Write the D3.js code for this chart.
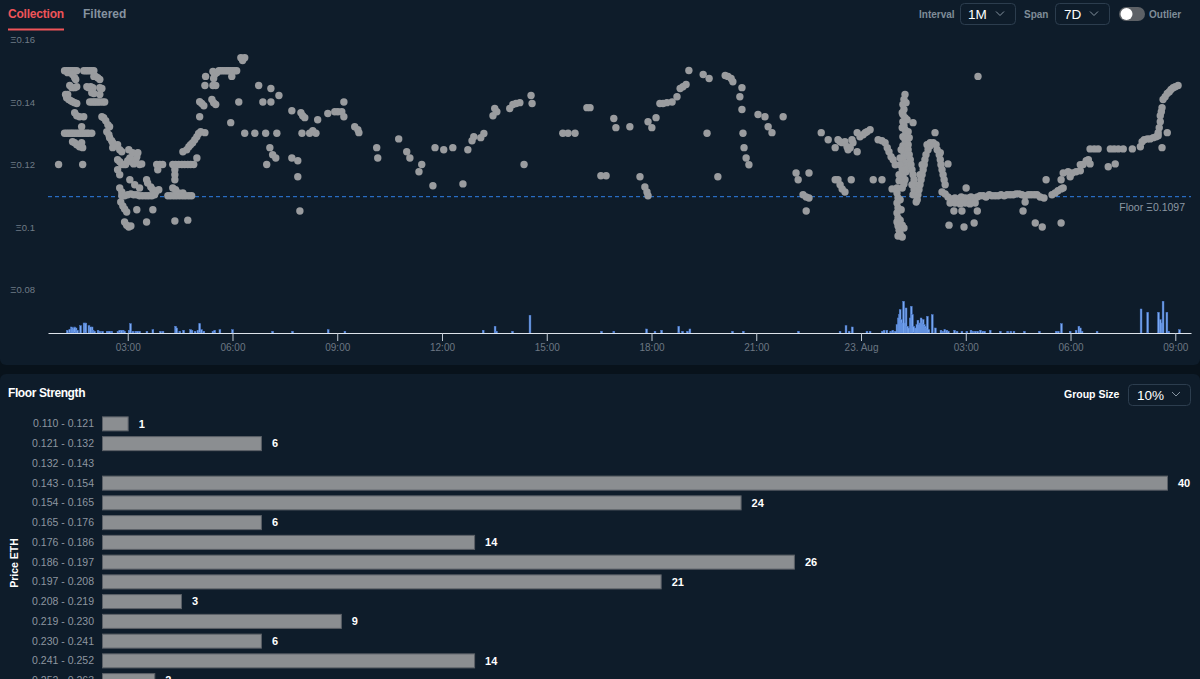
<!DOCTYPE html>
<html><head><meta charset="utf-8">
<script src="https://cdn.jsdelivr.net/npm/d3@7"></script>
<style>
html,body{margin:0;padding:0;background:#08121b;overflow:hidden;}
svg{display:block;font-family:"Liberation Sans",Arial,sans-serif;}
</style></head><body>
<svg id="c" width="1200" height="679"></svg>
<script>
// ---------- DATA ----------
// sales: [hours since 22 Aug 00:00 UTC, price in ETH]
const salesNight = [
[1.02,0.12],[1.19,0.15],[1.25,0.15],[1.31,0.15],[1.37,0.15],[1.42,0.15],[1.48,0.15],[1.54,0.15],
[1.74,0.15],[1.80,0.15],[1.85,0.15],[1.91,0.15],[1.97,0.15],[2.03,0.15],
[1.28,0.1494],[1.42,0.1488],[1.48,0.1478],[1.51,0.1472],
[2.03,0.1482],[2.08,0.1482],[2.14,0.1478],[2.20,0.1472],
[1.34,0.1453],[1.40,0.1446],[1.48,0.1446],[1.54,0.1449],
[1.83,0.1449],[1.88,0.1446],[1.94,0.1449],[2.00,0.1446],
[2.20,0.1446],[2.26,0.1443],[1.22,0.1424],[1.28,0.1424],[1.97,0.143],[2.03,0.1427],[2.20,0.1424],
[1.25,0.1414],[1.31,0.1408],[1.37,0.1404],[1.42,0.1401],[1.48,0.1398],[1.54,0.1395],
[1.91,0.14],[1.97,0.14],[2.03,0.14],[2.08,0.14],[2.14,0.14],[2.20,0.14],[2.28,0.14],[2.34,0.14],
[1.48,0.1366],[1.54,0.1356],[1.62,0.1353],[1.74,0.1353],[1.68,0.1321],
[1.19,0.13],[1.25,0.13],[1.31,0.13],[1.37,0.13],[1.42,0.13],[1.48,0.13],[1.54,0.13],[1.60,0.13],[1.65,0.13],[1.71,0.13],[1.77,0.13],[1.83,0.13],[1.88,0.13],[1.97,0.13],
[1.42,0.1273],[1.48,0.127],[1.54,0.1263],[1.62,0.1257],[1.71,0.1254],[1.68,0.127],[1.71,0.12],
[2.26,0.1353],[2.31,0.135],[2.37,0.134],[2.43,0.1327],[2.48,0.1321],
[2.40,0.1305],[2.46,0.1295],[2.48,0.1286],[2.54,0.1276],[2.57,0.127],[2.63,0.126],[2.71,0.1263],[2.77,0.1247],[2.83,0.1241],[2.57,0.1254],
[2.71,0.1215],[2.77,0.1209],[2.83,0.12],[2.89,0.12],[2.94,0.12],[3.00,0.1212],
[2.71,0.1183],[2.77,0.1167],[2.77,0.1125],[2.83,0.1112],[2.83,0.11],[2.91,0.11],[3.00,0.1103],
[2.80,0.108],[2.86,0.1067],[2.91,0.1058],[2.97,0.1048],
[2.91,0.1016],[2.97,0.1006],[3.03,0.10],[3.09,0.1003]
];
const salesMorning = [
[3.06,0.1221],[3.11,0.1209],[3.17,0.1202],[3.23,0.1215],[3.26,0.1225],[3.34,0.12],[3.40,0.1202],
[3.03,0.1247],[3.14,0.1238],[3.29,0.1238],
[3.06,0.1151],[3.20,0.1135],[3.34,0.1125],[3.54,0.1151],
[3.57,0.1141],[3.66,0.1128],[3.72,0.1119],[3.80,0.1112],[3.89,0.1119],
[3.83,0.12],[3.92,0.12],[4.00,0.12],[3.86,0.1183],
[3.09,0.1106],[3.17,0.1103],[3.26,0.1103],[3.34,0.11],[3.43,0.11],[3.52,0.11],[3.60,0.11],[3.69,0.11],[3.77,0.1103],
[3.26,0.1055],[3.54,0.1016],[3.72,0.1055],
[4.29,0.12],[4.37,0.12],[4.46,0.12],[4.55,0.12],[4.63,0.12],[4.72,0.12],[4.80,0.12],[4.89,0.12],
[4.35,0.1183],[4.35,0.1167],[4.35,0.1151],
[4.29,0.1125],[4.37,0.1119],[4.46,0.1109],[4.58,0.1109],
[4.15,0.11],[4.23,0.11],[4.32,0.11],[4.40,0.11],[4.49,0.11],[4.58,0.11],[4.66,0.11],[4.75,0.11],[4.83,0.11],
[4.35,0.1019],[4.72,0.1022],[4.58,0.1241],
[4.69,0.1247],[4.75,0.1257],[4.80,0.1263],[4.86,0.127],[4.92,0.1279],[4.98,0.1289],[5.03,0.1299],[5.09,0.1305],
[4.98,0.1221],[5.06,0.1353],[5.06,0.1401],[5.12,0.1395],[5.18,0.1388],
[5.21,0.1453],[5.23,0.1482],[5.41,0.1408],[5.46,0.1398],[5.52,0.1392],
[5.44,0.1453],[5.52,0.1453],
[5.44,0.1498],[5.49,0.1488],[5.55,0.1494],[5.61,0.15],[5.46,0.1475],
[5.66,0.15],[5.72,0.15],[5.78,0.15],[5.84,0.15],[5.89,0.15],[5.95,0.15],[6.01,0.15],[6.07,0.15],[6.12,0.15],
[5.98,0.1482],[5.21,0.1302],[5.95,0.1334]
];
const salesForenoon = [
[6.24,0.1542],[6.35,0.1542],[6.29,0.1533],[6.18,0.14],
[6.35,0.13],[6.64,0.13],[6.95,0.13],[7.27,0.13],
[6.75,0.1453],[7.10,0.1443],[7.33,0.1421],[6.87,0.14],[7.10,0.14],
[7.07,0.1254],[7.15,0.1231],[7.24,0.1221],[6.98,0.12],
[7.70,0.1372],[7.96,0.1366],[8.01,0.1356],[8.07,0.135],
[7.99,0.13],[8.21,0.13],[8.30,0.1308],[8.39,0.13],
[7.70,0.1221],[7.87,0.1212],[7.87,0.1161],[7.93,0.1051],
[8.44,0.1343],[8.73,0.1363],[8.93,0.1369],[9.02,0.1369],[9.13,0.1369],[9.19,0.14],[9.19,0.1353],
[9.50,0.1321],[9.59,0.1311],[9.62,0.1302],
[10.13,0.1254],[10.16,0.1221],
[10.76,0.1282],[10.99,0.1241],[11.08,0.1221],[11.42,0.12],[11.34,0.1177],[11.74,0.1132],[11.80,0.1254]
];
const salesAfternoon = [
[12.05,0.1247],[12.31,0.1254],[12.60,0.1138],[12.74,0.1247],[12.86,0.1276],[12.91,0.1289],[13.11,0.1286],[13.20,0.1299],[13.46,0.1356],[13.51,0.1379],[13.57,0.1369],[13.94,0.1379],[14.03,0.1392],[14.12,0.1395],[14.23,0.1398],[14.35,0.12],[14.55,0.1421],[14.58,0.1395],
[15.46,0.13],[15.61,0.13],[15.81,0.13],[16.15,0.1382],[16.24,0.1382],
[16.55,0.1164],[16.70,0.1164],
[16.92,0.1347],[16.98,0.1318],[17.38,0.1321],
[17.67,0.1161],[17.81,0.1128],[17.87,0.1112],[17.90,0.11],
[17.90,0.1337],[18.01,0.1318],[18.13,0.135],[18.24,0.1395],[18.33,0.1395],[18.44,0.1398],[18.59,0.14],
[18.73,0.1417],[18.82,0.1443],[18.90,0.1449],[18.99,0.1456],[19.07,0.1501],
[19.48,0.1488],[19.59,0.13],[19.65,0.1475],[19.90,0.1161],
[20.11,0.1485],[20.19,0.1482],[20.28,0.1475],[20.33,0.1465],
[20.53,0.1417],[20.59,0.1446],[20.59,0.1376],[20.62,0.13],[20.65,0.1254],[20.71,0.1221],[20.79,0.1199],
[21.05,0.136],[21.25,0.1353],[21.34,0.1321],[21.45,0.1302],[21.77,0.1353]
];
const salesSpike = [
[22.14,0.1173],[22.20,0.1151],[22.51,0.1173],[22.34,0.1103],[22.43,0.1096],[22.51,0.1093],[22.43,0.1051],
[22.86,0.1302],[23.06,0.1279],
[23.26,0.1254],[23.34,0.1279],[23.40,0.1273],[23.46,0.127],[23.54,0.1273],[23.60,0.1257],[23.63,0.1247],[23.69,0.1254],[23.74,0.1279],[23.77,0.127],[23.89,0.1241],
[23.89,0.1302],[23.97,0.1289],[24.06,0.1295],[24.12,0.1302],[24.17,0.1305],[24.26,0.1311],
[23.34,0.1151],[23.40,0.1135],[23.46,0.1122],[23.54,0.1112],[23.26,0.1151],[23.72,0.1151],
[24.35,0.1151],[24.60,0.1151],
[24.49,0.1279],[24.60,0.1276],[24.69,0.127],
[24.75,0.1254],[24.80,0.1241],[24.86,0.1225],[24.92,0.1215],[24.98,0.1199],[24.89,0.1122],
[25.03,0.1125],[25.03,0.1109],[25.06,0.1093],[25.03,0.1077],[25.06,0.1061],[25.03,0.1045],[25.06,0.1029],[25.03,0.1016],[25.06,0.1003],[25.09,0.099],[25.12,0.0978],[25.06,0.0971],[25.18,0.0968],[25.18,0.1006],[25.23,0.0997],[25.12,0.1022],[25.15,0.1055],[25.12,0.1087],
[25.26,0.1424],[25.23,0.1408],[25.20,0.1392],[25.23,0.1376],[25.20,0.136],[25.26,0.135],[25.20,0.1337],[25.23,0.1324],[25.26,0.1311],[25.29,0.1299],[25.20,0.1289],[25.26,0.1279],[25.32,0.127],[25.20,0.126],[25.26,0.125],[25.23,0.1238],[25.29,0.1228],[25.20,0.1215],[25.26,0.1205],[25.32,0.1196],[25.23,0.1186],[25.29,0.1177],[25.20,0.1164],[25.26,0.1151],[25.23,0.1138],[25.18,0.1125],[25.35,0.1305],[25.38,0.1286],[25.35,0.1263],[25.15,0.1247],[25.12,0.1221],[25.12,0.1199],[25.18,0.1183],[25.09,0.1167],[25.09,0.1148],
[25.29,0.1398],[25.18,0.1366],[25.32,0.1343],[25.18,0.1318],[25.49,0.1334],
[25.35,0.1247],[25.38,0.1231],[25.41,0.1215],[25.43,0.1199],[25.46,0.1183],[25.49,0.1167],[25.52,0.1151],[25.55,0.1135],[25.55,0.1119],[25.58,0.1103],[25.61,0.1087],[25.52,0.1119],[25.46,0.1135],[25.49,0.1103],[25.58,0.108],
[25.63,0.1103],[25.66,0.1119],[25.69,0.1135],[25.72,0.1151],[25.75,0.1167],[25.78,0.1183],[25.81,0.1199],[25.83,0.1215],[25.86,0.1231],[25.92,0.1247],[25.98,0.126],[25.69,0.1167],[25.75,0.1199],
[25.89,0.1263],[25.98,0.127],[26.07,0.127],[26.15,0.1263],[26.12,0.1302],
[26.18,0.1247],[26.24,0.1231],[26.27,0.1215],[26.29,0.1199],[26.32,0.1183],[26.35,0.1167],[26.38,0.1151],[26.41,0.1135],[26.27,0.1238],[26.49,0.1202]
];
const salesFloorRun = [
[26.32,0.1112],[26.41,0.1106],[26.49,0.1096],[26.58,0.109],[26.64,0.1087],[26.69,0.1093],[26.75,0.1087],[26.81,0.109],[26.87,0.1096],[26.92,0.109],[26.98,0.1093],[27.04,0.1087],[27.09,0.1093],[27.15,0.1096],[27.21,0.109],[27.27,0.1093],[27.33,0.1096],[27.41,0.11],[27.50,0.11],[27.58,0.1096],[27.67,0.1103],[27.75,0.11],[27.84,0.11],[27.93,0.11],[28.01,0.1103],[28.10,0.11],[28.18,0.1103],[28.27,0.1103],[28.36,0.1103],[28.44,0.1106],[28.53,0.1106],[28.61,0.1103],[28.70,0.11],[28.79,0.1103],[28.87,0.1103],[28.96,0.1103],[29.04,0.1103],[29.13,0.1096],[29.24,0.1093],
[26.55,0.1077],[26.69,0.1077],[26.84,0.1074],[26.98,0.1077],[27.12,0.1074],[27.27,0.1077],
[26.66,0.1051],[26.89,0.1051],[27.33,0.1051],[26.52,0.1006],[26.95,0.10],[27.24,0.1013],[27.01,0.1125],[28.64,0.1051],[28.70,0.108],[28.99,0.1013],[29.19,0.10],[29.73,0.1013],[29.30,0.1151],
[27.35,0.1482]
];
const salesRecovery = [
[29.47,0.1103],[29.56,0.1109],[29.64,0.1116],[29.73,0.1122],[29.79,0.1125],
[29.73,0.1151],[29.79,0.1173],
[29.93,0.1177],[30.05,0.1173],[30.16,0.1177],[30.28,0.118],[29.99,0.1161],
[30.28,0.1199],[30.36,0.12],[30.45,0.1212],[30.51,0.1215],[30.56,0.1202],
[30.56,0.125],[30.68,0.125],[30.79,0.125],
[31.14,0.125],[31.25,0.125],[31.37,0.125],[31.51,0.125],
[31.08,0.1193],[31.28,0.1202],[31.77,0.125],
[32.00,0.1257],[32.05,0.1273],[32.11,0.1279],[32.20,0.1282],[32.28,0.1282],[32.37,0.1286],[32.45,0.1289],[32.51,0.1292],
[32.62,0.1254],
[32.51,0.1302],[32.54,0.1318],[32.57,0.1337],[32.57,0.1356],[32.60,0.1369],[32.62,0.1382],
[32.77,0.1302],
[32.65,0.1408],[32.71,0.1417],[32.77,0.1427],[32.83,0.1433],[32.88,0.144],[32.94,0.1446],[33.00,0.1449],[33.08,0.1453]
];
// volume: [hours since 22 Aug 00:00 UTC, ETH]
const volumeDay1 = [[1.27,0.55],[1.34,0.66],[1.39,1.2],[1.42,1.0],[1.45,0.8],[1.48,1.2],[1.52,1.0],[1.56,0.55],[1.65,1.46],[1.75,2.0],[1.80,2.0],[1.89,1.46],[1.93,1.2],[1.98,1.2],[2.01,0.55],[2.05,0.35],[2.15,0.55],[2.20,0.35],[2.28,0.35],[2.41,0.35],[2.45,0.35],[2.48,0.35],[2.54,0.35],[2.72,0.35],[2.77,0.55],[2.82,0.55],[2.87,0.55],[2.91,0.35],[3.04,0.55],[3.08,1.86],[3.15,0.35],[3.23,0.35],[3.28,0.35],[3.34,0.35],[3.55,0.35],[3.72,0.66],[3.94,0.35],[4.01,0.35],[4.37,1.34],[4.40,1.0],[4.49,0.35],[4.60,0.55],[4.80,0.66],[4.84,0.55],[4.93,0.35],[5.01,0.55],[5.06,1.86],[5.11,0.66],[5.18,0.35],[5.44,0.35],[5.49,0.55],[5.64,0.66],[6.00,0.66],[7.15,0.35],[7.72,0.35],[8.74,0.66],[9.22,0.35],[13.18,0.55],[13.52,1.34],[13.56,0.35],[14.02,0.35],[14.52,3.54],[16.57,0.35],[16.92,0.35],[17.86,0.8],[18.10,0.35],[18.29,0.55],[18.78,1.34],[18.89,0.35],[19.03,0.35],[19.10,0.8],[20.32,0.35],[20.63,0.35],[22.21,0.35],[23.40,0.35],[23.57,1.46],[23.66,0.35],[23.75,1.2]];
const volumeDay2 = [[24.17,0.35],[24.26,0.35],[24.61,0.35],[24.66,0.55],[24.74,0.55],[24.85,0.35],[24.91,0.55],[24.98,0.35],[25.03,1.66],[25.07,3.0],[25.10,3.66],[25.12,4.66],[25.15,2.66],[25.18,2.0],[25.22,6.34],[25.26,2.0],[25.29,5.0],[25.33,1.34],[25.37,1.0],[25.41,3.0],[25.44,5.34],[25.47,3.66],[25.51,1.34],[25.55,1.0],[25.60,1.66],[25.63,2.54],[25.66,1.66],[25.69,2.0],[25.72,3.0],[25.75,2.0],[25.78,2.66],[25.81,1.66],[25.84,1.34],[25.87,1.0],[25.90,3.34],[25.94,0.66],[26.04,3.66],[26.13,1.0],[26.29,0.55],[26.34,0.35],[26.40,0.66],[26.46,0.55],[26.50,0.35],[26.68,0.55],[26.75,0.35],[26.89,0.35],[27.03,0.35],[27.15,0.55],[27.20,0.35],[27.27,0.35],[27.34,0.35],[27.42,0.55],[27.49,0.35],[27.54,0.35],[27.70,0.55],[27.99,0.35],[28.20,0.35],[28.29,0.35],[28.38,0.35],[28.68,0.35],[29.11,0.35],[29.59,0.35],[29.65,0.35],[29.74,1.86],[29.99,0.35],[30.16,0.55],[30.24,1.34],[30.28,1.0],[30.33,0.35],[30.76,0.35],[32.02,4.8],[32.21,4.14],[32.52,4.14],[32.57,2.66],[32.62,2.0],[32.65,6.34],[32.76,4.14],[32.81,0.35],[33.12,0.66]];
const floorPrice = 0.1097;
const priceTicks = [0.08, 0.10, 0.12, 0.14, 0.16];
const viewStartHour = 0.7167, viewEndHour = 33.45;
// floor strength
const rangeLabels = ["0.110 - 0.121","0.121 - 0.132","0.132 - 0.143","0.143 - 0.154","0.154 - 0.165","0.165 - 0.176","0.176 - 0.186","0.186 - 0.197","0.197 - 0.208","0.208 - 0.219","0.219 - 0.230","0.230 - 0.241","0.241 - 0.252","0.252 - 0.263"];
const rangeCounts = [1,6,0,40,24,6,14,26,21,3,9,6,14,2];

// ---------- DRAW ----------
const svg = d3.select("#c");
const base = Date.UTC(2022, 7, 22, 0, 0);
const toDate = h => new Date(base + h * 3600e3);

svg.append("rect").attr("x",0).attr("y",-8).attr("width",1200).attr("height",373).attr("rx",6).attr("fill","#0e1c2a");
svg.append("rect").attr("x",0).attr("y",374).attr("width",1200).attr("height",320).attr("rx",6).attr("fill","#0e1c2a");

// tabs
svg.append("text").attr("x",8).attr("y",18).text("Collection").attr("fill","#ef5459").attr("font-size",12).attr("font-weight","bold").attr("letter-spacing",-0.2);
svg.append("rect").attr("x",8).attr("y",28.5).attr("width",56).attr("height",2).attr("fill","#ef5459");
svg.append("text").attr("x",83).attr("y",18).text("Filtered").attr("fill","#8593a0").attr("font-size",12).attr("font-weight","bold");

// controls
const ctrlLbl = (x, t) => svg.append("text").attr("x",x).attr("y",18).text(t).attr("fill","#7f8c98").attr("font-size",10).attr("font-weight","bold");
ctrlLbl(919,"Interval"); ctrlLbl(1024,"Span"); ctrlLbl(1149,"Outlier");
const dropdown = (x, y, w, h, t, tx, cx, fs) => {
  svg.append("rect").attr("x",x+0.5).attr("y",y+0.5).attr("width",w).attr("height",h).attr("rx",4).attr("fill","none").attr("stroke","#2c3d4e");
  svg.append("text").attr("x",tx).attr("y",y+h/2+5).text(t).attr("fill","#ffffff").attr("font-size",fs);
  svg.append("path").attr("d",`M${cx},${y+h/2-2} l4,4 l4,-4`).attr("fill","none").attr("stroke","#8593a0").attr("stroke-width",1);
};
dropdown(960,3,55,21,"1M",968,996,13.5);
dropdown(1055,3,54,21,"7D",1064,1090,13.5);
svg.append("rect").attr("x",1119).attr("y",7).attr("width",26).attr("height",14).attr("rx",7).attr("fill","#5d6166");
svg.append("circle").attr("cx",1126.5).attr("cy",14).attr("r",6).attr("fill","#ffffff");

// scales
const x = d3.scaleUtc().domain([toDate(viewStartHour), toDate(viewEndHour)]).range([48, 1191]);
const y = d3.scaleLinear().domain([0.08, 0.16]).range([289.5, 39.5]);
const v = d3.scaleLinear().domain([0, 6.6]).range([333, 300]);

// y axis
const yAx = svg.append("g").attr("transform","translate(35,0)")
  .call(d3.axisLeft(y).tickValues(priceTicks).tickSize(0).tickPadding(0).tickFormat(d => "Ξ" + (+d.toFixed(2))));
yAx.select(".domain").remove();
yAx.selectAll("text").attr("fill","#6f7b86").attr("font-size",9.5).attr("font-family","Liberation Sans, Arial, sans-serif");

// volume bars
const volume = volumeDay1.concat(volumeDay2);
svg.append("g").selectAll("rect").data(volume).join("rect")
  .attr("x", d => x(toDate(d[0])) - 0.9).attr("width",1.8)
  .attr("y", d => v(d[1])).attr("height", d => v(0) - v(d[1]))
  .attr("fill","#7aa9f2").attr("stroke","#4d7cd0").attr("stroke-width",0.5);

// x axis
const fmt = d => (d.getUTCHours() === 0 ? d3.utcFormat("%-d. %b")(d) : d3.utcFormat("%H:%M")(d));
const xAx = svg.append("g").attr("transform","translate(0,333)")
  .call(d3.axisBottom(x).ticks(d3.utcHour.every(3)).tickSizeInner(8).tickSizeOuter(0).tickPadding(3).tickFormat(fmt));
xAx.select(".domain").attr("stroke","#dde3ea");
xAx.selectAll(".tick line").attr("stroke","#c3ccd6");
xAx.selectAll("text").attr("fill","#6c7783").attr("font-size",10).attr("font-family","Liberation Sans, Arial, sans-serif");

// floor line
svg.append("line").attr("x1",48).attr("x2",1191).attr("y1",y(floorPrice)).attr("y2",y(floorPrice))
  .attr("stroke","#2f7fe6").attr("stroke-width",1).attr("stroke-dasharray","4,3");
svg.append("text").attr("x",1185).attr("y",y(floorPrice)+14).attr("text-anchor","end")
  .text("Floor Ξ" + floorPrice).attr("fill","#8c98a3").attr("font-size",10.5);

// scatter
const sales = [].concat(salesNight, salesMorning, salesForenoon, salesAfternoon, salesSpike, salesFloorRun, salesRecovery);
svg.append("g").selectAll("circle").data(sales).join("circle")
  .attr("cx", d => x(toDate(d[0]))).attr("cy", d => y(d[1])).attr("r",3.7)
  .attr("fill","#9a9c9f");

// ---------- Floor Strength ----------
svg.append("text").attr("x",8).attr("y",397).text("Floor Strength").attr("fill","#ffffff").attr("font-size",12).attr("font-weight","bold").attr("letter-spacing",-0.4);
svg.append("text").attr("x",1064).attr("y",398).text("Group Size").attr("fill","#ffffff").attr("font-size",10.5).attr("font-weight","bold");
svg.append("rect").attr("x",1128.5).attr("y",384.5).attr("width",62).attr("height",21).attr("rx",4).attr("fill","none").attr("stroke","#2c3d4e");
svg.append("text").attr("x",1137).attr("y",400).text("10%").attr("fill","#ffffff").attr("font-size",13.5);
svg.append("path").attr("d","M1172,392 l4,4 l4,-4").attr("fill","none").attr("stroke","#8593a0");

const by = d3.scaleBand().domain(rangeLabels).range([414, 414 + 19.75*rangeLabels.length]).paddingInner(0.24).paddingOuter(0.12);
const bx = d3.scaleLinear().domain([0, 40]).range([102, 1168]);
const bAx = svg.append("g").attr("transform","translate(102,0)").call(d3.axisLeft(by).tickSize(0).tickPadding(8));
bAx.select(".domain").remove();
bAx.selectAll("text").attr("fill","#8d96a0").attr("font-size",10.5).attr("font-family","Liberation Sans, Arial, sans-serif");

const rows = rangeLabels.map((l,i) => ({label:l, count:rangeCounts[i]})).filter(d => d.count > 0);
svg.append("g").selectAll("rect").data(rows).join("rect")
  .attr("x", bx(0)+0.5).attr("y", d => by(d.label)+0.5)
  .attr("width", d => bx(d.count) - bx(0) - 1).attr("height", by.bandwidth()-1)
  .attr("fill","#8b8e91").attr("stroke","#5b6067").attr("stroke-width",1);
svg.append("g").selectAll("text").data(rows).join("text")
  .attr("x", d => bx(d.count) + 10).attr("y", d => by(d.label) + by.bandwidth()/2).attr("dy","0.35em")
  .text(d => d.count).attr("fill","#ffffff").attr("font-size",11).attr("font-weight","bold");

svg.append("text").attr("transform","translate(18,563) rotate(-90)").attr("text-anchor","middle")
  .text("Price ETH").attr("fill","#ffffff").attr("font-size",10.5).attr("font-weight","bold");
</script>
</body></html>
